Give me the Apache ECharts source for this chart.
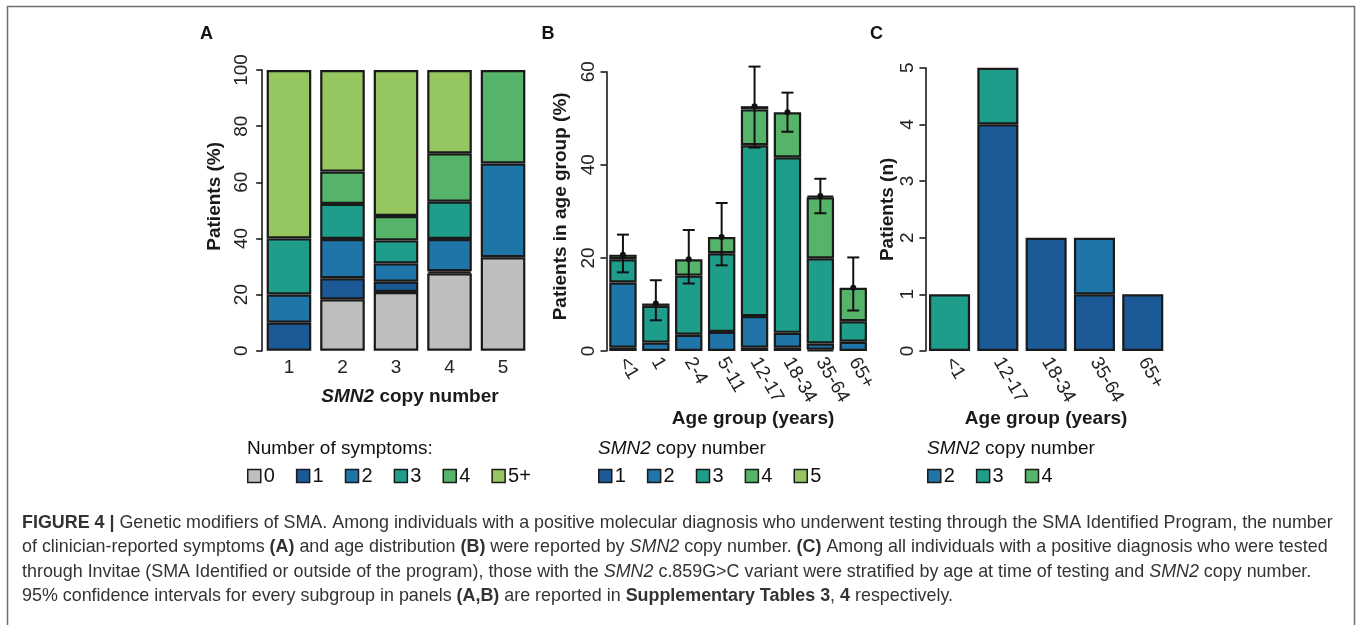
<!DOCTYPE html>
<html>
<head>
<meta charset="utf-8">
<script src="https://cdn.jsdelivr.net/npm/echarts@6/dist/echarts.min.js"></script>
<style>
  html, body { margin: 0; padding: 0; background: #fff; }
  #chart { width: 1357px; height: 625px; }
</style>
</head>
<body>
<div id="chart"></div>
<script>
// panel A: % of patients by number of symptoms, per SMN2 copy number
const copyCats = ['1', '2', '3', '4', '5']
const sym0 = [0, 18.3, 20.9, 27.6, 33.3]
const sym1 = [10, 7.5, 3.7, 0.7, 0]
const sym2 = [10, 14.0, 6.5, 11.5, 33.4]
const sym3 = [20, 12.5, 8.2, 13.3, 0]
const sym4 = [0, 11.5, 8.7, 17.2, 33.3]
const sym5 = [60, 36.2, 52.0, 29.7, 0]

// panel B: % of patients in age group, stacked by SMN2 copy number
const ageCats = ['<1', '1', '2-4', '5-11', '12-17', '18-34', '35-64', '65+']
const cn1 = [0.7, 0, 0, 0, 0.7, 0.7, 0.3, 0]
const cn2 = [14.0, 1.8, 3.5, 4.1, 6.8, 3.2, 1.3, 2.0]
const cn3 = [5.0, 7.9, 12.7, 16.9, 36.7, 37.7, 18.3, 4.4]
const cn4 = [1.0, 0.5, 3.5, 3.5, 7.7, 9.7, 13.1, 7.2]
const cn5 = [0, 0, 0, 0, 0.7, 0, 0.3, 0]
const ciLow = [16.9, 6.6, 14.5, 18.4, 43.7, 47.1, 29.6, 8.7]
const ciHigh = [25.0, 15.2, 26.0, 31.8, 61.1, 55.5, 37.0, 20.1]

// panel C: patients (n) with c.859G>C by age group
const cAgeCats = ['<1', '12-17', '18-34', '35-64', '65+']
const cCopy2 = [0, 4, 2, 1, 1]
const cCopy3 = [0, 0, 0, 1, 0]
const cCopy4 = [1, 1, 0, 0, 0]

const GRAY = '#bebebe'
const DBLUE = '#1b5a97'
const MBLUE = '#1f74a8'
const TEAL = '#1f9d8b'
const GREEN = '#56b46a'
const LGREEN = '#95c65f'
const INK = '#1a1a1a'
const FONT = '"Liberation Sans", Arial, Helvetica, sans-serif'

const nz = arr => arr.map(v => (v === 0 ? '-' : v))
const bTotal = ageCats.map((c, i) => cn1[i] + cn2[i] + cn3[i] + cn4[i] + cn5[i])

function barSeries (name, data, color, idx, stack) {
  return {
    name: name,
    type: 'bar',
    stack: stack,
    xAxisIndex: idx,
    yAxisIndex: idx,
    data: nz(data),
    itemStyle: { color: color, borderColor: INK, borderWidth: 2.2 },
    emphasis: { disabled: true }
  }
}

function yAxisCfg (idx, max, interval, name, gap, labelMargin, namePad) {
  return {
    gridIndex: idx,
    type: 'value',
    min: 0,
    max: max,
    interval: interval,
    name: name,
    nameLocation: 'middle',
    nameGap: gap,
    nameTextStyle: { fontSize: 19, fontWeight: 'bold', color: INK, fontFamily: FONT, padding: [0, 0, 0, namePad] },
    axisLine: { show: true, lineStyle: { color: INK, width: 1.6 } },
    axisTick: { show: true, length: 6, lineStyle: { color: INK, width: 1.6 } },
    axisLabel: { rotate: 90, fontSize: 19, color: '#222', margin: labelMargin, fontFamily: FONT },
    splitLine: { show: false }
  }
}

function xAxisCfg (idx, cats, rotate, name, gap, namePad) {
  return {
    gridIndex: idx,
    type: 'category',
    data: cats,
    name: name,
    nameLocation: 'middle',
    nameGap: gap,
    nameTextStyle: {
      fontSize: 19, fontWeight: 'bold', color: INK, fontFamily: FONT,
      padding: [0, 0, 0, namePad],
      rich: { i: { fontSize: 19, fontWeight: 'bold', fontStyle: 'italic', color: INK, fontFamily: FONT } }
    },
    axisLine: { show: false },
    axisTick: { show: false },
    axisLabel: { rotate: rotate, fontSize: 19, color: '#222', margin: 8, interval: 0, fontFamily: FONT }
  }
}

const caption = [
  '{b|FIGURE 4 |} Genetic modifiers of SMA. Among individuals with a positive molecular diagnosis who underwent testing through the SMA Identified Program, the number',
  'of clinician-reported symptoms {b|(A)} and age distribution {b|(B)} were reported by {i|SMN2} copy number. {b|(C)} Among all individuals with a positive diagnosis who were tested',
  'through Invitae (SMA Identified or outside of the program), those with the {i|SMN2} c.859G>C variant were stratified by age at time of testing and {i|SMN2} copy number.',
  '95% confidence intervals for every subgroup in panels {b|(A,B)} are reported in {b|Supplementary Tables 3}, {b|4} respectively.'
]
const captionY = [523, 547.5, 572, 596.5]

const graphics = []
// frame
graphics.push({ type: 'polyline', silent: true, shape: { points: [[7.5, 630], [7.5, 6.5], [1354.5, 6.5], [1354.5, 630]] }, style: { fill: null, stroke: '#707070', lineWidth: 1.5 } })
// panel letters
;[['A', 200], ['B', 541.5], ['C', 870]].forEach(p => {
  graphics.push({ type: 'text', x: p[1], y: 34, style: { text: p[0], font: 'bold 18px ' + FONT, fill: '#111', verticalAlign: 'middle' } })
})
// legend titles
const richI = { i: { fontStyle: 'italic', fontSize: 19, fontFamily: FONT, fill: '#111' } }
graphics.push({ type: 'text', x: 247, y: 449, style: { text: 'Number of symptoms:', font: '19px ' + FONT, fill: '#111', verticalAlign: 'middle' } })
graphics.push({ type: 'text', x: 598, y: 449, style: { text: '{i|SMN2} copy number', font: '19px ' + FONT, fill: '#111', verticalAlign: 'middle', rich: richI } })
graphics.push({ type: 'text', x: 927, y: 449, style: { text: '{i|SMN2} copy number', font: '19px ' + FONT, fill: '#111', verticalAlign: 'middle', rich: richI } })
// caption
const CAP = 17.9
caption.forEach((line, k) => {
  graphics.push({
    type: 'text', x: 22, y: captionY[k],
    style: {
      text: line, font: CAP + 'px ' + FONT, fill: '#333', verticalAlign: 'middle',
      rich: {
        b: { fontWeight: 'bold', fontSize: CAP, fontFamily: FONT, fill: '#333' },
        i: { fontStyle: 'italic', fontSize: CAP, fontFamily: FONT, fill: '#333' }
      }
    }
  })
})

function legendCfg (left, names) {
  return {
    left: left,
    top: 466,
    orient: 'horizontal',
    padding: 0,
    itemWidth: 13,
    itemHeight: 13,
    itemGap: 21,
    selectedMode: false,
    icon: 'rect',
    itemStyle: { borderColor: INK, borderWidth: 1.5 },
    textStyle: { fontSize: 20, color: '#111', fontFamily: FONT, padding: [0, 0, 0, -2] },
    formatter: name => name.slice(1),
    data: names
  }
}

const chart = echarts.init(document.getElementById('chart'), null, { renderer: 'canvas' })
chart.setOption({
  animation: false,
  backgroundColor: '#fff',
  textStyle: { fontFamily: FONT },
  grid: [
    { left: 262.2, top: 70, width: 267.6, height: 280.7 },
    { left: 606.5, top: 71.7, width: 263.2, height: 279.3 },
    { left: 925.4, top: 67.7, width: 241.5, height: 283.3 }
  ],
  xAxis: [
    xAxisCfg(0, copyCats, 0, '{i|SMN2} copy number', 37, 28),
    xAxisCfg(1, ageCats, -60, 'Age group (years)', 58, 30),
    xAxisCfg(2, cAgeCats, -60, 'Age group (years)', 58, 0)
  ],
  yAxis: [
    yAxisCfg(0, 100, 20, 'Patients (%)', 38, 11, 28),
    yAxisCfg(1, 60, 20, 'Patients in age group (%)', 36, 8, 10),
    yAxisCfg(2, 5, 1, 'Patients (n)', 23, 8, 0)
  ],
  legend: [
    legendCfg(247, ['A0', 'A1', 'A2', 'A3', 'A4', 'A5+']),
    legendCfg(598, ['B1', 'B2', 'B3', 'B4', 'B5']),
    legendCfg(927, [
      { name: 'C2', itemStyle: { color: MBLUE } },
      { name: 'C3', itemStyle: { color: TEAL } },
      { name: 'C4', itemStyle: { color: GREEN } }
    ])
  ],
  graphic: graphics,
  series: [
    Object.assign(barSeries('A0', sym0, GRAY, 0, 'a'), { barCategoryGap: '16.7%' }),
    barSeries('A1', sym1, DBLUE, 0, 'a'),
    barSeries('A2', sym2, MBLUE, 0, 'a'),
    barSeries('A3', sym3, TEAL, 0, 'a'),
    barSeries('A4', sym4, GREEN, 0, 'a'),
    barSeries('A5+', sym5, LGREEN, 0, 'a'),

    Object.assign(barSeries('B1', cn1, DBLUE, 1, 'b'), { barCategoryGap: '16.7%' }),
    barSeries('B2', cn2, MBLUE, 1, 'b'),
    barSeries('B3', cn3, TEAL, 1, 'b'),
    barSeries('B4', cn4, GREEN, 1, 'b'),
    barSeries('B5', cn5, LGREEN, 1, 'b'),
    {
      type: 'custom',
      name: 'ci',
      xAxisIndex: 1,
      yAxisIndex: 1,
      clip: false,
      z: 10,
      silent: true,
      encode: { x: 0, y: [1, 2, 3] },
      data: ageCats.map((c, i) => [i, ciLow[i], ciHigh[i], bTotal[i]]),
      renderItem: function (params, api) {
        const lo = api.coord([api.value(0), api.value(1)])
        const hi = api.coord([api.value(0), api.value(2)])
        const mid = api.coord([api.value(0), api.value(3)])
        const w = 6
        const st = { stroke: '#111', lineWidth: 2 }
        return {
          type: 'group',
          children: [
            { type: 'line', shape: { x1: lo[0], y1: lo[1], x2: hi[0], y2: hi[1] }, style: st },
            { type: 'line', shape: { x1: lo[0] - w, y1: lo[1], x2: lo[0] + w, y2: lo[1] }, style: st },
            { type: 'line', shape: { x1: hi[0] - w, y1: hi[1], x2: hi[0] + w, y2: hi[1] }, style: st },
            { type: 'circle', shape: { cx: mid[0], cy: mid[1], r: 3 }, style: { fill: '#111' } }
          ]
        }
      }
    },

    Object.assign(barSeries('C2', cCopy2, DBLUE, 2, 'c'), { barCategoryGap: '15%' }),
    barSeries('C3', cCopy3, MBLUE, 2, 'c'),
    barSeries('C4', cCopy4, TEAL, 2, 'c')
  ]
})
</script>
</body>
</html>
